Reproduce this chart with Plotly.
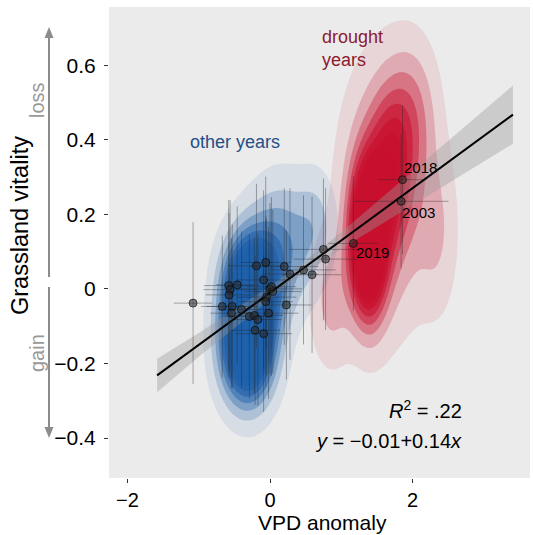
import numpy as np
import plotly.graph_objects as go

# ---- data ----
vpd = [-1.08, -0.19, -0.06, 0.20, 0.28, 0.47, 0.59, 0.75, 0.78, -0.09,
       -0.58, -0.46, -0.56, -0.575, 0.00, 0.04, 0.02, -0.05, -0.06, 0.23,
       -0.67, -0.53, -0.40, -0.54, -0.02, -0.29, -0.22, -0.17, -0.21, -0.09,
       1.17, 1.86, 1.84]
vit = [-0.038, 0.062, 0.071, 0.060, 0.040, 0.051, 0.038, 0.106, 0.080, 0.024,
       0.009, 0.011, -0.002, -0.016, 0.000, -0.007, 0.006, -0.022, -0.034, -0.043,
       -0.047, -0.047, -0.055, -0.065, -0.065, -0.074, -0.071, -0.082, -0.111, -0.120,
       0.122, 0.293, 0.235]
vpd_err = [0.27, 0.40, 0.35, 0.48, 0.40, 0.45, 0.42, 0.48, 0.45, 0.38,
           0.35, 0.30, 0.38, 0.33, 0.45, 0.40, 0.35, 0.42, 0.38, 0.35,
           0.30, 0.36, 0.34, 0.30, 0.42, 0.35, 0.40, 0.33, 0.36, 0.40,
           0.35, 0.34, 0.665]
vit_err = [0.217, 0.22, 0.23, 0.21, 0.23, 0.20, 0.21, 0.19, 0.19, 0.24,
           0.23, 0.21, 0.24, 0.22, 0.23, 0.22, 0.24, 0.21, 0.23, 0.20,
           0.19, 0.22, 0.21, 0.20, 0.23, 0.22, 0.21, 0.23, 0.20, 0.21,
           0.18, 0.20, 0.18]
labelled_years = ["2019", "2018", "2003"]
labelled_vpd = [1.17, 1.86, 1.84]
labelled_vit = [0.122, 0.293, 0.235]

# regression fit and its confidence band
intercept = -0.01
slope = 0.14
fit_x = [-1.585, -1.0, 0.0, 0.35, 1.0, 2.0, 3.41]
band_half = [0.045, 0.032, 0.018, 0.016, 0.022, 0.045, 0.078]

# density shapes (Gaussian components: cx, cy, sx, sy, weight)
blue_cx = [-0.28, -0.32, 0.15, 0.65]
blue_cy = [0.00, -0.16, 0.11, 0.17]
blue_sx = [0.25, 0.25, 0.30, 0.20]
blue_sy = [0.10, 0.10, 0.12, 0.10]
blue_w = [0.75, 0.75, 0.25, 0.12]

red_cx = [1.38, 1.60, 2.00, 1.70, 0.85, 2.35]
red_cy = [0.13, 0.25, 0.47, 0.33, -0.03, 0.15]
red_sx = [0.17, 0.38, 0.24, 0.20, 0.20, 0.20]
red_sy = [0.13, 0.22, 0.13, 0.13, 0.12, 0.15]
red_w = [1.0, 0.30, 0.18, 0.30, 0.15, 0.12]

xt_vals = [-2, 0, 2]
xt_text = ["\u22122", "0", "2"]
yt_vals = [-0.4, -0.2, 0, 0.2, 0.4, 0.6]
yt_text = ["\u22120.4", "\u22120.2", "0", "0.2", "0.4", "0.6"]

X_RANGE = [-2.26, 3.649]
Y_RANGE = [-0.507, 0.756]

gx = np.linspace(X_RANGE[0], X_RANGE[1], 280)
gy = np.linspace(Y_RANGE[0], Y_RANGE[1], 280)
GX, GY = np.meshgrid(gx, gy)


def density(cx, cy, sx, sy, w):
    z = np.zeros_like(GX)
    for a, b, c, d, e in zip(cx, cy, sx, sy, w):
        z += e * np.exp(-((GX - a) ** 2 / (2 * c * c) + (GY - b) ** 2 / (2 * d * d)))
    return z / z.max()


alphas = [0.0, 0.10, 0.22, 0.34, 0.46, 0.58, 0.70, 0.82, 0.95]
nlev = len(alphas) - 1
start, size = 0.04, 0.066


def scale(rgb):
    return [[k / nlev, "rgba(%d,%d,%d,%.3f)" % (rgb[0], rgb[1], rgb[2], a)]
            for k, a in enumerate(alphas)]


fig = go.Figure()
for cx, cy, sx, sy, w, rgb in [
    (red_cx, red_cy, red_sx, red_sy, red_w, (200, 16, 46)),
    (blue_cx, blue_cy, blue_sx, blue_sy, blue_w, (31, 96, 170)),
]:
    fig.add_trace(go.Contour(
        x=gx, y=gy, z=density(cx, cy, sx, sy, w),
        autocontour=False,
        contours=dict(start=start, end=start + size * (nlev - 1), size=size,
                      coloring="fill", showlines=False),
        colorscale=scale(rgb), showscale=False, line=dict(width=0),
        hoverinfo="skip"))

fx = np.array(fit_x)
fy = intercept + slope * fx
hw = np.array(band_half)
fig.add_trace(go.Scatter(x=np.concatenate([fx, fx[::-1]]),
                         y=np.concatenate([fy + hw, (fy - hw)[::-1]]),
                         fill="toself", fillcolor="rgba(153,153,153,0.38)",
                         line=dict(width=0), mode="lines", hoverinfo="skip"))
fig.add_trace(go.Scatter(x=fx, y=fy, mode="lines",
                         line=dict(color="black", width=2), hoverinfo="skip"))

fig.add_trace(go.Scatter(
    x=vpd, y=vit, mode="markers",
    error_x=dict(type="data", array=vpd_err, width=0, thickness=1,
                 color="rgba(40,40,40,0.38)"),
    error_y=dict(type="data", array=vit_err, width=0, thickness=1,
                 color="rgba(40,40,40,0.38)"),
    marker=dict(size=8, color="rgba(40,40,40,0.55)",
                line=dict(color="rgba(0,0,0,0.6)", width=1))))

annotations = []
shifts = [(1, -9), (-1, 12), (-1, -11)]
for t, xv, yv, (dx, dy) in zip(labelled_years, labelled_vpd, labelled_vit, shifts):
    annotations.append(dict(x=xv, y=yv, text=t, showarrow=False, xanchor="left",
                            yanchor="middle", xshift=dx, yshift=dy,
                            font=dict(size=15, color="black")))

annotations += [
    dict(x=0.7, y=0.645, xref="x", yref="y", text="drought<br>years",
         showarrow=False, xanchor="left", yanchor="middle",
         align="left", font=dict(size=18, color="#8b1a2e")),
    dict(x=-1.15, y=0.395, xref="x", yref="y", text="other years",
         showarrow=False, xanchor="left", yanchor="middle",
         font=dict(size=18, color="#1f4f87")),
    dict(x=0.843, y=0.145, xref="paper", yref="paper",
         text="<i>R</i><sup>2</sup> = .22", showarrow=False,
         xanchor="right", yanchor="middle", font=dict(size=20, color="black")),
    dict(x=0.843, y=0.078, xref="paper", yref="paper",
         text="<i>y</i> = \u22120.01+0.14<i>x</i>", showarrow=False,
         xanchor="right", yanchor="middle", font=dict(size=20, color="black")),
    # axis titles
    dict(x=0.508, y=-0.095, xref="paper", yref="paper", text="VPD anomaly",
         showarrow=False, xanchor="center", yanchor="middle",
         font=dict(size=21, color="black")),
    dict(x=-0.2114, y=0.535, xref="paper", yref="paper",
         text="Grassland vitality", textangle=-90, showarrow=False,
         xanchor="center", yanchor="middle", font=dict(size=23.5, color="black")),
    dict(x=-0.171, y=0.8025, xref="paper", yref="paper", text="loss",
         textangle=-90, showarrow=False, xanchor="center", yanchor="middle",
         font=dict(size=20, color="#999999")),
    dict(x=-0.171, y=0.2654, xref="paper", yref="paper", text="gain",
         textangle=-90, showarrow=False, xanchor="center", yanchor="middle",
         font=dict(size=20, color="#999999")),
]

# side arrows (decoration, paper coordinates)
AX = -0.1425
dxh, dyh = 4.5 / 421, 11 / 471
shapes = [
    dict(type="line", xref="paper", yref="paper", x0=AX, x1=AX,
         y0=0.4268, y1=0.9575 - dyh, line=dict(color="#8c8c8c", width=2)),
    dict(type="path", xref="paper", yref="paper",
         path="M %f,%f L %f,%f L %f,%f Z" % (AX, 0.9575, AX - dxh, 0.9575 - dyh,
                                             AX + dxh, 0.9575 - dyh),
         fillcolor="#8c8c8c", line=dict(width=0)),
    dict(type="line", xref="paper", yref="paper", x0=AX, x1=AX,
         y0=0.4055, y1=0.0849 + dyh, line=dict(color="#8c8c8c", width=2)),
    dict(type="path", xref="paper", yref="paper",
         path="M %f,%f L %f,%f L %f,%f Z" % (AX, 0.0849, AX - dxh, 0.0849 + dyh,
                                             AX + dxh, 0.0849 + dyh),
         fillcolor="#8c8c8c", line=dict(width=0)),
]

fig.update_layout(
    width=533, height=535,
    margin=dict(l=109, r=3, t=7, b=57),
    paper_bgcolor="white", plot_bgcolor="#EBEBEB",
    showlegend=False,
    font=dict(family="Liberation Sans, Arial, sans-serif", color="black"),
    annotations=annotations, shapes=shapes,
    xaxis=dict(range=X_RANGE, tickvals=xt_vals, ticktext=xt_text,
               showgrid=False, zeroline=False, ticks="outside", ticklen=4,
               tickwidth=1.2, tickcolor="#333333",
               tickfont=dict(size=20, color="black"), showline=False),
    yaxis=dict(range=Y_RANGE, tickvals=yt_vals, ticktext=yt_text,
               showgrid=False, zeroline=False, ticks="outside", ticklen=4,
               tickwidth=1.2, tickcolor="#333333", ticklabelstandoff=4,
               tickfont=dict(size=21, color="black"), showline=False),
)

fig.write_html("out.html", config={"displayModeBar": False},
               post_script="document.body.style.margin='0';")
